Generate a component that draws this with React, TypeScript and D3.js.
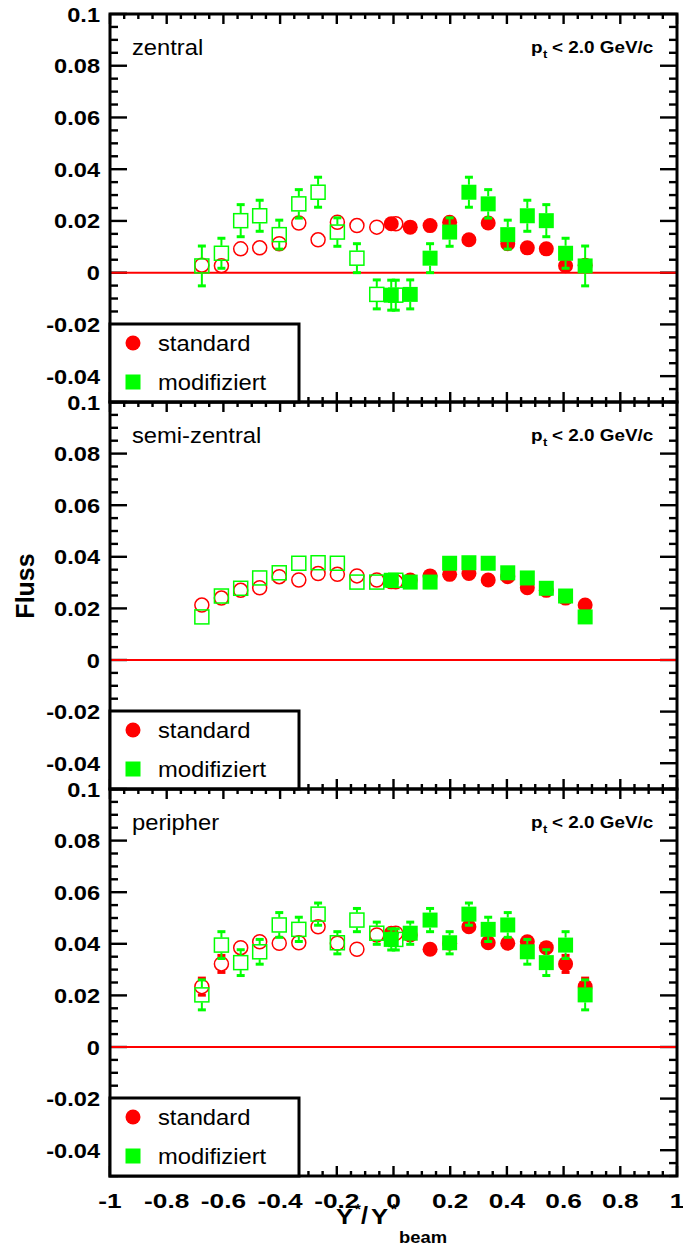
import React from "react";
import * as d3 from "d3";

// ---------- data ----------
// x positions of the measured (filled) points; open markers are the mirror (-x)
const xPositions = [-0.008, 0.059, 0.129, 0.198, 0.266, 0.334, 0.403, 0.472, 0.539, 0.607, 0.676];

const panelNames = ["zentral", "semi-zentral", "peripher"];

const redZentral = [0.0189, 0.0176, 0.0182, 0.0195, 0.0127, 0.0192, 0.0112, 0.0096, 0.0092, 0.0027, 0.0029];
const redZentralErr = [0.002, 0.002, 0.002, 0.002, 0.002, 0.002, 0.002, 0.002, 0.002, 0.002, 0.002];
const greenZentral = [-0.0087, -0.0084, 0.0056, 0.0157, 0.0311, 0.0266, 0.0147, 0.022, 0.0201, 0.0075, 0.0026];
const greenZentralErr = [0.0058, 0.0056, 0.0056, 0.0055, 0.0058, 0.0055, 0.0056, 0.006, 0.0062, 0.0058, 0.0077];

const redSemi = [0.0303, 0.031, 0.0326, 0.0332, 0.0335, 0.031, 0.0323, 0.028, 0.027, 0.024, 0.0213];
const redSemiErr = [0.001, 0.001, 0.001, 0.001, 0.001, 0.001, 0.001, 0.001, 0.001, 0.001, 0.001];
const greenSemi = [0.0309, 0.0302, 0.0302, 0.0375, 0.0377, 0.0375, 0.0338, 0.0318, 0.0278, 0.0248, 0.0167];
const greenSemiErr = [0.0015, 0.0015, 0.0015, 0.0015, 0.0015, 0.0015, 0.0015, 0.0015, 0.0015, 0.0015, 0.0015];

const redPeri = [0.0441, 0.0434, 0.0379, 0.0402, 0.0466, 0.0404, 0.0402, 0.0408, 0.0385, 0.0322, 0.0234];
const redPeriErr = [0.0025, 0.0025, 0.0025, 0.0025, 0.0025, 0.0025, 0.0025, 0.0025, 0.0025, 0.0033, 0.0033];
const greenPeri = [0.0417, 0.0441, 0.0492, 0.0404, 0.0515, 0.0456, 0.0473, 0.0369, 0.0327, 0.0395, 0.0202];
const greenPeriErr = [0.0041, 0.0043, 0.0045, 0.0043, 0.0043, 0.0047, 0.0048, 0.0048, 0.005, 0.0052, 0.0058];

const yTickValues = [-0.04, -0.02, 0, 0.02, 0.04, 0.06, 0.08, 0.1];
const xTickValues = [-1, -0.8, -0.6, -0.4, -0.2, 0, 0.2, 0.4, 0.6, 0.8, 1];
const legendLabels = ["standard", "modifiziert"];
const ptLabel = "< 2.0 GeV/c";

// ---------- layout ----------
const W = 683;
const H = 1252;
const LEFT = 110;
const RIGHT = 677;
const panelTops = [14, 402, 789];
const panelHeights = [388, 387, 387];
const RED = "#ff0000";
const GREEN = "#00ff00";
const FONT = "'Liberation Sans', Arial, Helvetica, sans-serif";
const HALF = 7.5; // marker half size

const xScale = d3.scaleLinear().domain([-1, 1]).range([LEFT, RIGHT]);

const fmt = (v: number) => (Math.abs(v) < 1e-9 ? "0" : String(+v.toFixed(2)));

function T(props: {
  x: number; y: number; size: number; bold?: boolean; anchor?: string; sx?: number;
  fill?: string; rotate?: number; children: React.ReactNode;
}) {
  const { x, y, size, bold, anchor = "start", sx = 1, fill = "#000", rotate = 0, children } = props;
  return (
    <text
      transform={`translate(${x},${y}) rotate(${rotate}) scale(${sx},1)`}
      fontFamily={FONT}
      fontSize={size}
      fontWeight={bold ? "bold" : "normal"}
      textAnchor={anchor}
      fill={fill}
    >
      {children}
    </text>
  );
}

function ErrBar({ cx, cy, errPx, color }: { cx: number; cy: number; errPx: number; color: string }) {
  if (errPx <= HALF + 0.5) return null;
  return (
    <g stroke={color}>
      <line x1={cx} x2={cx} y1={cy - HALF} y2={cy - errPx} strokeWidth={2} />
      <line x1={cx} x2={cx} y1={cy + HALF} y2={cy + errPx} strokeWidth={2} />
      <line x1={cx - 4} x2={cx + 4} y1={cy - errPx} y2={cy - errPx} strokeWidth={3} />
      <line x1={cx - 4} x2={cx + 4} y1={cy + errPx} y2={cy + errPx} strokeWidth={3} />
    </g>
  );
}

function Panel({ idx, red, redErr, green, greenErr }: {
  idx: number; red: number[]; redErr: number[]; green: number[]; greenErr: number[];
}) {
  const top = panelTops[idx];
  const h = panelHeights[idx];
  const bottom = top + h;
  const y = d3.scaleLinear().domain([-0.05, 0.1]).range([bottom, top]);
  const k = (y(0) - y(0.01)) / 0.01; // px per unit

  const xMinor = d3.range(-1, 1.0001, 0.05);
  const yMinor = d3.range(-0.05, 0.1001, 0.005);
  const isXMajor = (v: number) => Math.abs(v * 5 - Math.round(v * 5)) < 1e-6;
  const isYMajor = (v: number) => Math.abs(v * 50 - Math.round(v * 50)) < 1e-6;

  return (
    <g>
      {/* ticks */}
      <g stroke="#000" strokeWidth={2.4}>
        {xMinor.map((v, i) => {
          const len = isXMajor(v) ? 10 : 5;
          const px = xScale(v);
          return (
            <g key={"xt" + i}>
              <line x1={px} x2={px} y1={bottom} y2={bottom - len} />
              <line x1={px} x2={px} y1={top} y2={top + len} />
            </g>
          );
        })}
        {yMinor.map((v, i) => {
          const len = isYMajor(v) ? 17 : 8;
          const py = y(v);
          return (
            <g key={"yt" + i}>
              <line x1={LEFT} x2={LEFT + len} y1={py} y2={py} />
              <line x1={RIGHT} x2={RIGHT - len} y1={py} y2={py} />
            </g>
          );
        })}
      </g>
      {/* zero line */}
      <line x1={LEFT} x2={RIGHT} y1={y(0)} y2={y(0)} stroke={RED} strokeWidth={2} />
      {/* frame */}
      <rect x={LEFT} y={top} width={RIGHT - LEFT} height={h} fill="none" stroke="#000" strokeWidth={3} />

      {/* red: standard */}
      {xPositions.map((xv, i) => {
        const cy = y(red[i]);
        const e = redErr[i] * k;
        return (
          <g key={"r" + i}>
            <ErrBar cx={xScale(-xv)} cy={cy} errPx={e} color={RED} />
            <circle cx={xScale(-xv)} cy={cy} r={7} fill="none" stroke={RED} strokeWidth={1.5} />
            <ErrBar cx={xScale(xv)} cy={cy} errPx={e} color={RED} />
            <circle cx={xScale(xv)} cy={cy} r={HALF} fill={RED} />
          </g>
        );
      })}
      {/* green: modifiziert */}
      {xPositions.map((xv, i) => {
        const cy = y(green[i]);
        const e = greenErr[i] * k;
        return (
          <g key={"g" + i}>
            <ErrBar cx={xScale(-xv)} cy={cy} errPx={e} color={GREEN} />
            <rect x={xScale(-xv) - 7} y={cy - 7} width={14} height={14} fill="none" stroke={GREEN} strokeWidth={1.5} />
            <ErrBar cx={xScale(xv)} cy={cy} errPx={e} color={GREEN} />
            <rect x={xScale(xv) - HALF} y={cy - HALF} width={HALF * 2} height={HALF * 2} fill={GREEN} />
          </g>
        );
      })}

      {/* y tick labels */}
      {yTickValues.map((v) => (
        <T key={"yl" + v} x={100} y={y(v) + 7.5} size={20} bold anchor="end" sx={1.18}>
          {fmt(v)}
        </T>
      ))}

      {/* panel title */}
      <T x={132} y={top + 41} size={22} sx={1.08}>{panelNames[idx]}</T>
      <g transform={`translate(531,${top + 39})`}>
        <T x={0} y={0} size={16} bold sx={1.18}>p</T>
        <T x={12} y={5} size={11} bold sx={1.18}>t</T>
        <T x={21} y={0} size={16} bold sx={1.18}>{ptLabel}</T>
      </g>

      {/* legend */}
      <rect x={LEFT} y={bottom - 78} width={299 - LEFT} height={78} fill="#fff" stroke="#000" strokeWidth={3} />
      <circle cx={133} cy={bottom - 59} r={HALF} fill={RED} />
      <T x={158} y={bottom - 51} size={22} sx={1.08}>{legendLabels[0]}</T>
      <rect x={133 - HALF} y={bottom - 20 - HALF} width={HALF * 2} height={HALF * 2} fill={GREEN} />
      <T x={158} y={bottom - 12} size={22} sx={1.08}>{legendLabels[1]}</T>
    </g>
  );
}

export default function App() {
  const bottomAll = panelTops[2] + panelHeights[2];
  return (
    <svg width={W} height={H} style={{ position: "absolute", left: 0, top: 0, background: "#fff" }}>
      <rect x={0} y={0} width={W} height={H} fill="#fff" />
      <Panel idx={0} red={redZentral} redErr={redZentralErr} green={greenZentral} greenErr={greenZentralErr} />
      <Panel idx={1} red={redSemi} redErr={redSemiErr} green={greenSemi} greenErr={greenSemiErr} />
      <Panel idx={2} red={redPeri} redErr={redPeriErr} green={greenPeri} greenErr={greenPeriErr} />

      {/* x tick labels */}
      {xTickValues.map((v) => (
        <T key={"xl" + v} x={xScale(v)} y={bottomAll + 32} size={21} bold anchor="middle" sx={1.25}>
          {fmt(v)}
        </T>
      ))}

      {/* x title */}
      <T x={336} y={1224} size={23} bold sx={1.12}>Y</T>
      <T x={355} y={1214} size={15} bold>*</T>
      <T x={361} y={1224} size={23} bold sx={1.1}>/</T>
      <T x={371} y={1224} size={23} bold sx={1.12}>Y</T>
      <T x={391} y={1214} size={15} bold>*</T>
      <T x={399} y={1243} size={16} bold sx={1.15}>beam</T>

      {/* y title */}
      <T x={34} y={586} size={25} bold anchor="middle" rotate={-90}>Fluss</T>
    </svg>
  );
}
